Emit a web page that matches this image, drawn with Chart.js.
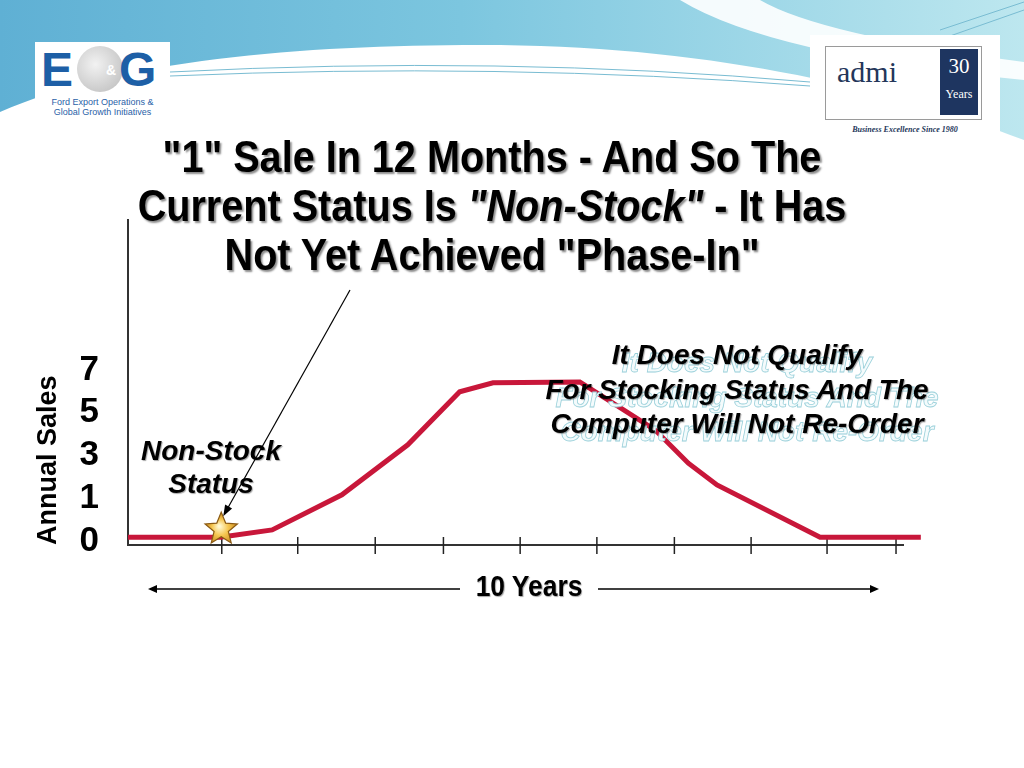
<!DOCTYPE html>
<html>
<head>
<meta charset="UTF-8">
<title>Non-Stock Status</title>
<script src="https://cdn.jsdelivr.net/npm/chart.js@4.4.1/dist/chart.umd.min.js"></script>
<style>
  body { margin: 0; background: #fff; }
  #wrap { position: relative; width: 1024px; height: 768px; overflow: hidden; font-family: "Liberation Sans", Arial, sans-serif; }
  #chart { position: absolute; left: 0; top: 0; }
  .txt { position: absolute; font-weight: bold; color: #000; white-space: nowrap; text-align: center; }
  .title { left: 0; width: 984px; top: 132px; font-size: 44px; line-height: 49px; transform: scaleX(0.9); text-shadow: 2px 2px 2px rgba(0,0,0,0.45); }
  .note { font-style: italic; text-shadow: 1px 1px 1px rgba(0,0,0,0.35); }
  .ghost { color: #f4fbfc; -webkit-text-stroke: 0.8px #9ad0da; text-shadow: none; }
  .logo { position: absolute; background: #fff; }
</style>
</head>
<body>
<div id="wrap">
  <canvas id="chart" width="1024" height="768"></canvas>

  <div class="logo" style="left:35px;top:42px;width:135px;height:80px;">
    <div style="position:absolute;left:42px;top:4px;width:46px;height:46px;border-radius:50%;background:radial-gradient(circle at 40% 40%, #f2f2f2, #b9b9b9);"></div>
    <div style="position:absolute;left:6px;top:0px;font:bold 48px 'Liberation Sans';color:#1d5fa6;">E</div>
    <div style="position:absolute;left:84px;top:0px;font:bold 48px 'Liberation Sans';color:#1d5fa6;">G</div>
    <div style="position:absolute;left:71px;top:20px;font:bold 14px 'Liberation Sans';color:#fff;">&amp;</div>
    <div style="position:absolute;left:0;width:135px;top:55px;font:9px/10px 'Liberation Sans';color:#2a62a8;text-align:center;">Ford Export Operations &amp;<br>Global Growth Initiatives</div>
  </div>

  <div class="logo" style="left:810px;top:35px;width:190px;height:105px;">
    <div style="position:absolute;left:15px;top:11px;width:155px;height:72px;border:1px solid #9a9a9a;"></div>
    <div style="position:absolute;left:27px;top:20px;font:30px 'Liberation Serif';color:#24365a;">admi</div>
    <div style="position:absolute;left:130px;top:14px;width:38px;height:66px;background:#1e3560;color:#fff;text-align:center;font-family:'Liberation Serif';">
      <div style="font-size:21px;margin-top:5px;">30</div>
      <div style="font-size:12px;margin-top:8px;">Years</div>
    </div>
    <div style="position:absolute;left:0;width:190px;top:90px;font:italic bold 8px 'Liberation Serif';color:#24365a;text-align:center;">Business Excellence Since 1980</div>
  </div>

  <div class="txt title">"1" Sale In 12 Months - And So The<br>Current Status Is <i>"Non-Stock"</i> - It Has<br>Not Yet Achieved "Phase-In"</div>

  <div class="txt note" style="left:111px;width:200px;top:434px;font-size:28px;line-height:33px;">Non-Stock<br>Status</div>

  <div class="txt note ghost" style="left:547px;width:400px;top:346px;font-size:28px;line-height:34.5px;">It Does Not Qualify<br>For Stocking Status And The<br>Computer Will Not Re-Order</div>
  <div class="txt note" style="left:537px;width:400px;top:338px;font-size:28px;line-height:34.5px;">It Does Not Qualify<br>For Stocking Status And The<br>Computer Will Not Re-Order</div>

  <div class="txt" style="left:429px;width:200px;top:569px;font-size:30px;line-height:34px;transform:scaleX(0.88);text-shadow:1px 1px 1px rgba(0,0,0,0.35);">10 Years</div>
</div>

<script>
// x in years across the 10 year span, y in slots of the sales axis
const years = [0, 1.19, 1.86, 2.76, 3.61, 4.28, 4.71, 5.83, 6.8, 7.23, 7.6, 8.93, 10.23]
const salesLevel = [0.09, 0.09, 0.26, 1.08, 2.25, 3.49, 3.7, 3.72, 2.6, 1.82, 1.31, 0.09, 0.09]
const yearTicks = [1.21, 2.19, 3.19, 4.07, 5.06, 6.05, 7.05, 8.04, 9.02, 9.91]
const salesTickPos = [0, 1, 2, 3, 4]
const salesTicks = ['0', '1', '3', '5', '7']

function arrow(ctx, x1, y1, x2, y2, len, half) {
    const a = Math.atan2(y2 - y1, x2 - x1)
    ctx.beginPath()
    ctx.moveTo(x1, y1)
    ctx.lineTo(x2 - Math.cos(a) * len * 0.8, y2 - Math.sin(a) * len * 0.8)
    ctx.stroke()
    ctx.beginPath()
    ctx.moveTo(x2, y2)
    ctx.lineTo(x2 - Math.cos(a) * len - Math.sin(a) * half, y2 - Math.sin(a) * len + Math.cos(a) * half)
    ctx.lineTo(x2 - Math.cos(a) * len + Math.sin(a) * half, y2 - Math.sin(a) * len - Math.cos(a) * half)
    ctx.closePath()
    ctx.fill()
}

function star(ctx, cx, cy, R, r) {
    ctx.beginPath()
    for (let i = 0; i < 10; i++) {
        const rad = i % 2 ? r : R
        const a = -Math.PI / 2 + i * Math.PI / 5
        ctx.lineTo(cx + Math.cos(a) * rad, cy + Math.sin(a) * rad)
    }
    ctx.closePath()
    const g = ctx.createRadialGradient(cx - 2, cy - 3, 1, cx, cy, R)
    g.addColorStop(0, '#fff7cf')
    g.addColorStop(0.45, '#f5c650')
    g.addColorStop(1, '#c7861c')
    ctx.fillStyle = g
    ctx.fill()
    ctx.strokeStyle = '#8a5a14'
    ctx.lineWidth = 1.2
    ctx.stroke()
}

const slide = {
    id: 'slide',
    beforeDraw(c) {
        const ctx = c.ctx
        ctx.save()
        ctx.fillStyle = '#fff'
        ctx.fillRect(0, 0, c.width, c.height)
        // header wave
        const g = ctx.createLinearGradient(0, 0, 1024, 0)
        g.addColorStop(0, '#5fb0d4')
        g.addColorStop(0.45, '#7cc6df')
        g.addColorStop(1, '#bde7ef')
        ctx.fillStyle = g
        ctx.beginPath()
        ctx.moveTo(0, 0)
        ctx.lineTo(1024, 0)
        ctx.lineTo(1024, 140)
        ctx.bezierCurveTo(880, 85, 700, 45, 480, 45)
        ctx.bezierCurveTo(300, 45, 120, 60, 0, 112)
        ctx.closePath()
        ctx.fill()
        // white swoosh
        ctx.fillStyle = 'rgba(255,255,255,0.9)'
        ctx.beginPath()
        ctx.moveTo(680, 0)
        ctx.quadraticCurveTo(770, 55, 1024, 80)
        ctx.lineTo(1024, 62)
        ctx.quadraticCurveTo(820, 35, 760, 0)
        ctx.closePath()
        ctx.fill()
        // thin lines
        ctx.strokeStyle = '#79bcd2'
        ctx.lineWidth = 1
        ctx.beginPath()
        ctx.moveTo(170, 72)
        ctx.quadraticCurveTo(500, 55, 810, 82)
        ctx.moveTo(170, 76)
        ctx.quadraticCurveTo(500, 62, 810, 86)
        ctx.moveTo(940, 30)
        ctx.lineTo(1024, 2)
        ctx.moveTo(950, 36)
        ctx.lineTo(1024, 10)
        ctx.stroke()
        ctx.restore()
    },
    beforeDatasetsDraw(c) {
        const ctx = c.ctx, x = c.scales.x, y0 = c.chartArea.bottom
        ctx.save()
        ctx.strokeStyle = '#222'
        ctx.lineWidth = 1.5
        x.ticks.forEach(t => {
            const px = x.getPixelForValue(t.value)
            ctx.beginPath()
            ctx.moveTo(px, y0 - 8)
            ctx.lineTo(px, y0 + 9)
            ctx.stroke()
        })
        ctx.restore()
    },
    afterDatasetsDraw(c) {
        const ctx = c.ctx
        const pt = c.getDatasetMeta(0).data[1]
        ctx.save()
        star(ctx, pt.x + 1, pt.y - 8, 17, 7.5)
        ctx.strokeStyle = '#000'
        ctx.fillStyle = '#000'
        ctx.lineWidth = 1.2
        arrow(ctx, 350, 290, pt.x + 3, pt.y - 21, 11, 4)
        ctx.lineWidth = 1.5
        arrow(ctx, 460, 589, 148, 589, 9, 4)
        arrow(ctx, 598, 589, 879, 589, 9, 4)
        ctx.restore()
    }
}

new Chart(document.getElementById('chart'), {
    type: 'line',
    data: {
        datasets: [{
            data: years.map((v, i) => ({ x: v, y: salesLevel[i] })),
            borderColor: '#c8173a',
            borderWidth: 5,
            pointRadius: 0,
            tension: 0,
            clip: false
        }]
    },
    options: {
        responsive: false,
        animation: false,
        layout: { padding: { left: 0, top: 220, right: 121, bottom: 193 } },
        plugins: { legend: { display: false }, tooltip: { enabled: false } },
        scales: {
            x: {
                type: 'linear',
                min: 0,
                max: 10,
                afterBuildTicks: s => { s.ticks = yearTicks.map(v => ({ value: v })) },
                afterFit: s => { s.height = 30 },
                ticks: { display: false },
                grid: { display: false },
                border: { color: '#333', width: 2 }
            },
            y: {
                type: 'linear',
                min: -0.094,
                max: 7.51,
                afterBuildTicks: s => { s.ticks = salesTickPos.map(v => ({ value: v })) },
                afterFit: s => { s.width = 128 },
                ticks: {
                    callback: v => salesTicks[v],
                    color: '#000',
                    padding: 29,
                    font: { family: 'Liberation Sans', size: 35, weight: 'bold' }
                },
                grid: { display: false, drawTicks: false },
                border: { color: '#333', width: 2 },
                title: {
                    display: true,
                    text: 'Annual Sales',
                    align: 'start',
                    color: '#000',
                    padding: { top: 32 },
                    font: { family: 'Liberation Sans', size: 27, weight: 'bold' }
                }
            }
        }
    },
    plugins: [slide]
})
</script>
</body>
</html>
